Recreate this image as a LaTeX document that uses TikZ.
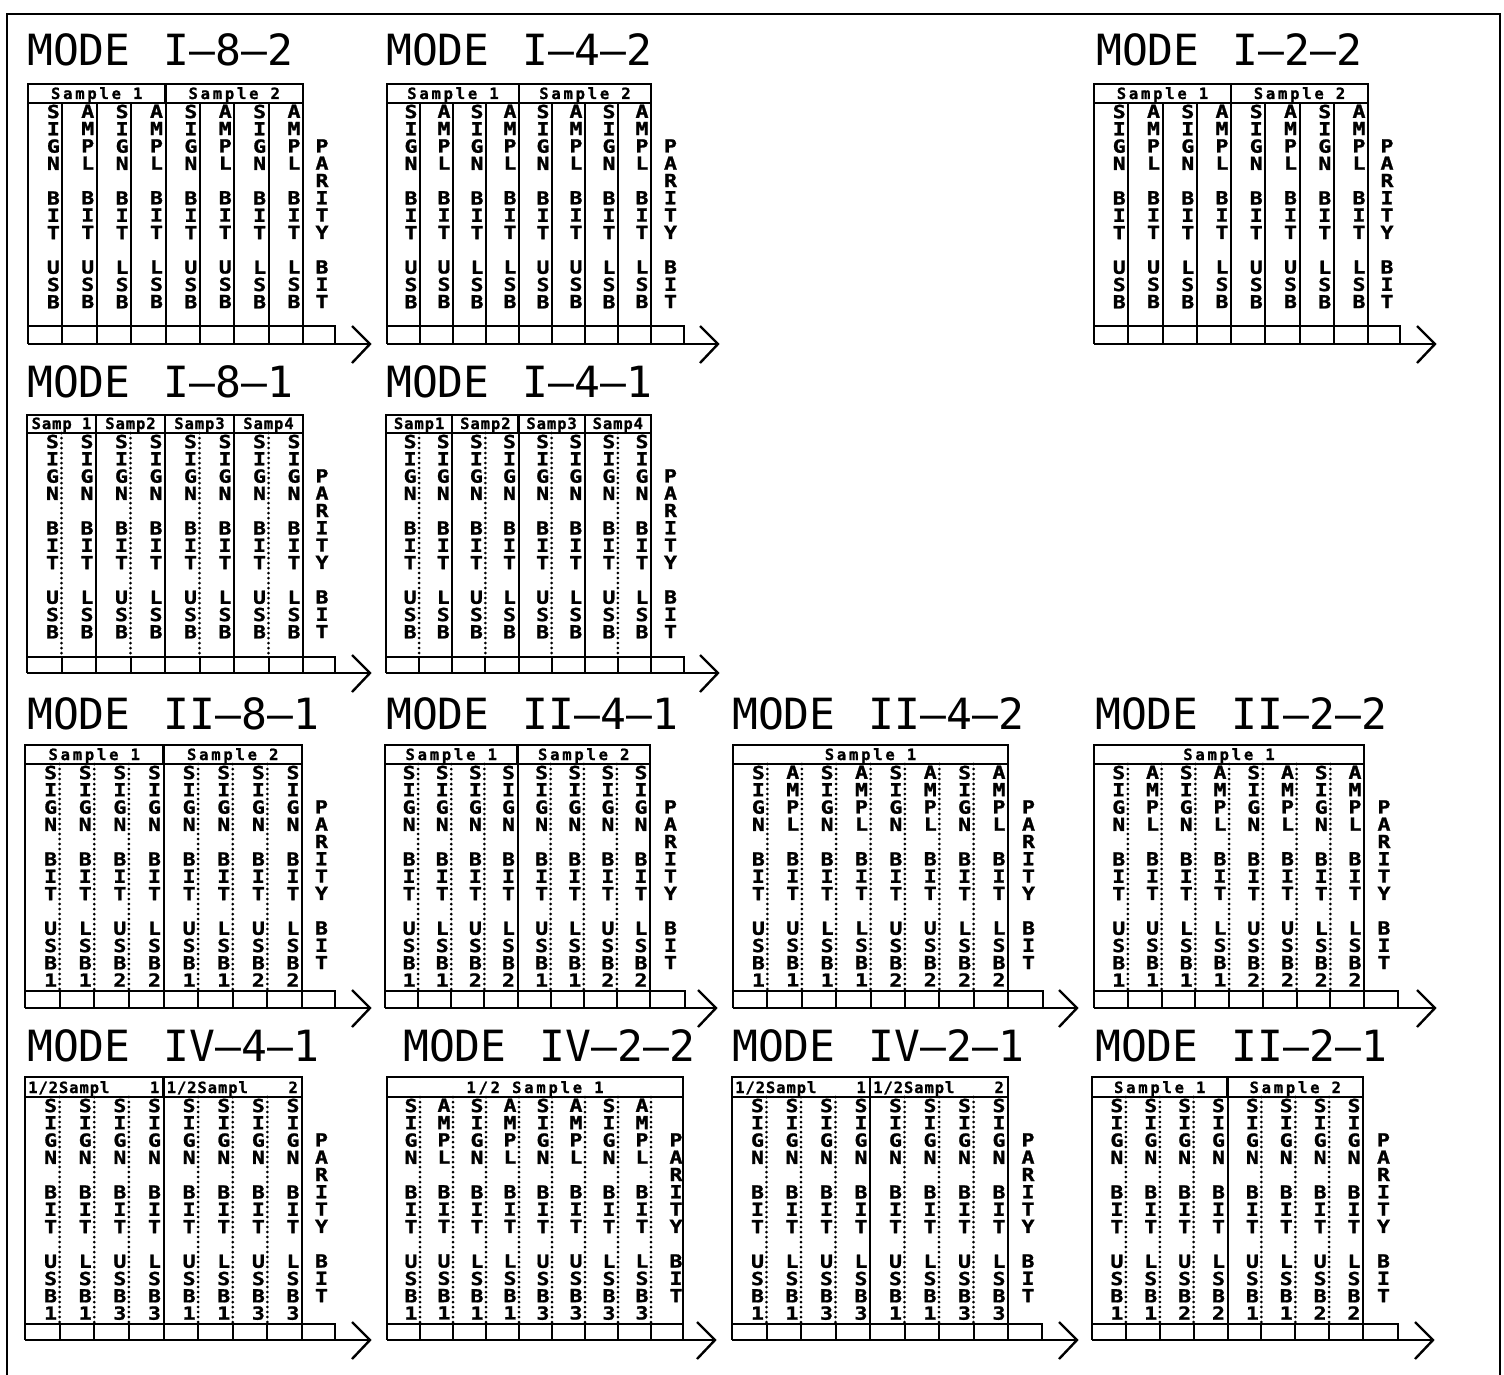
\documentclass[tikz,border=0pt]{standalone}
\usepackage{fontspec}
\setmonofont{DejaVu Sans Mono}
\newfontfamily\plotfont{DejaVu Sans Mono}
\newfontfamily\colfont[FakeStretch=1.2,BoldFeatures={FakeBold=1.3}]{DejaVu Sans Mono}
\newfontfamily\hdrfont[LetterSpace=18,BoldFeatures={FakeBold=1.2}]{DejaVu Sans Mono}
\newfontfamily\hdrfontB[LetterSpace=6,BoldFeatures={FakeBold=1.2}]{DejaVu Sans Mono}

\newcommand\wS{S\\I\\G\\N}
\newcommand\wA{A\\M\\P\\L}
\newcommand\sU{U\\S\\B}
\newcommand\sL{L\\S\\B}
\expandafter\def\csname dgx\endcsname{}
\expandafter\def\csname dg1\endcsname{\\1}
\expandafter\def\csname dg2\endcsname{\\2}
\expandafter\def\csname dg3\endcsname{\\3}

\newcommand\RowOne{S/U/x,A/U/x,S/L/x,A/L/x,S/U/x,A/U/x,S/L/x,A/L/x}
\newcommand\RowTwo{S/U/x,S/L/x,S/U/x,S/L/x,S/U/x,S/L/x,S/U/x,S/L/x}
\newcommand\ColsSL{S/U/1,S/L/1,S/U/2,S/L/2,S/U/1,S/L/1,S/U/2,S/L/2}
\newcommand\ColsSA{S/U/1,A/U/1,S/L/1,A/L/1,S/U/2,A/U/2,S/L/2,A/L/2}
\newcommand\ColsSLt{S/U/1,S/L/1,S/U/3,S/L/3,S/U/1,S/L/1,S/U/3,S/L/3}
\newcommand\ColsSAt{S/U/1,A/U/1,S/L/1,A/L/1,S/U/3,A/U/3,S/L/3,A/L/3}
\newcommand\DivAll{s,s,s,s,s,s,s}
\newcommand\DivPair{d,s,d,s,d,s,d}
\newcommand\DivHalf{d,d,d,s,d,d,d}
\newcommand\DivDot{d,d,d,d,d,d,d}
\newcommand\DivDotP{d,d,d,d,d,d,d,d}

\newcommand\geom[9]{\def\pid{#1}\def\pL{#2}\def\pR{#3}\def\pP{#4}\def\pA{#5}\def\pHt{#6}\def\pHb{#7}\def\pBt{#8}\def\pBb{#9}\pgfmathsetmacro\pw{(#3-#2)/8}}

\newcommand\panel[3]{%
  \draw[bx] (\pL,\pHt) rectangle (#3,\pBt);
  \draw[bx] (\pL,\pHb) -- (#3,\pHb);
  \foreach \dt [count=\k] in #1 {%
    \if s\dt \draw[divs] ({\pL+\k*\pw},\pHb) -- ({\pL+\k*\pw},\pBt);
    \else \draw[divd] ({\pL+\k*\pw},\pHb) -- ({\pL+\k*\pw},\pBt); \fi}
  \foreach \cw/\cs/\cd [count=\k] in #2 {%
    \node[coltext] (\pid-c\k) at ({\pL+\k*\pw-9},{\pHb+1.5})
      {\csname w\cw\endcsname\\~\\B\\I\\T\\~\\\csname s\cs\endcsname\csname dg\cd\endcsname};}
  \draw[bx] (\pL,\pBt) -- (\pP,\pBt) -- (\pP,\pBb);
  \draw[bx] (\pL,\pBt) -- (\pL,\pBb);
  \foreach \k in {1,...,8} {\draw[cell] ({\pL+\k*\pw},\pBt) -- ({\pL+\k*\pw},\pBb);}
  \coordinate (\pid-s) at (\pL,\pBb);
  \coordinate (\pid-t) at (\pA,\pBb);
  \draw[bx] (\pid-s) -- (\pid-t);
  \draw[bx] ([shift={(-18,-18)}]\pid-t) -- (\pid-t) -- ([shift={(-18,19)}]\pid-t);
}
\newcommand\parity[1]{\node[coltext] (\pid-par) at ({#1},{\pHb+1.5+2*17.3}) {P\\A\\R\\I\\T\\Y\\~\\B\\I\\T};}
\newcommand\mtitle[3]{\node[title] (\pid-title) at (#1,#2) {MODE\hspace{33pt}#3};}
\newcommand\hsec[3]{%
  \draw[bx] ({\pL+#2*\pw},\pHt) -- ({\pL+#2*\pw},\pHb);
  \node[htext] (\pid-h#2) at ({\pL+(#1+#2)/2*\pw},{\pHb-4}) {#3};}
\newcommand\hsecq[3]{%
  \draw[bx] ({\pL+#2*\pw},\pHt) -- ({\pL+#2*\pw},\pHb);
  \node[htextB] (\pid-h#2) at ({\pL+(#1+#2)/2*\pw},{\pHb-4}) {#3};}
\newcommand\hsecB[4]{%
  \draw[bx] ({\pL+#2*\pw},\pHt) -- ({\pL+#2*\pw},\pHb);
  \node[htextB,anchor=base west] (\pid-h#2a) at ({\pL+#1*\pw+3},{\pHb-4}) {#3};
  \node[htextB,anchor=base east] (\pid-h#2b) at ({\pL+#2*\pw-4},{\pHb-4}) {#4};}

\begin{document}
\begin{tikzpicture}[x=1pt,y=-1pt,
  bx/.style={line width=2.4pt},
  cell/.style={line width=2pt},
  divs/.style={line width=2pt},
  divd/.style={line width=3pt,dash pattern=on 0pt off 5pt,line cap=round},
  coltext/.style={anchor=north,inner sep=0pt,align=center,
    font={\fontsize{18}{17.3}\selectfont\colfont\bfseries}},
  htext/.style={anchor=base,inner sep=0pt,font={\fontsize{15.5}{15.5}\selectfont\hdrfont\bfseries}},
  htextB/.style={anchor=base,inner sep=0pt,font={\fontsize{15.5}{15.5}\selectfont\hdrfontB\bfseries}},
  title/.style={anchor=west,inner sep=0pt,font={\fontsize{43}{43}\selectfont\plotfont}},
  frame/.style={line width=2.6pt}]
\useasboundingbox (0,0) rectangle (1504,1375);
\draw[frame] (7,1390) -- (7,14) -- (1500,14) -- (1500,1390);

% ---------- Row 1
\geom{a1}{28}{303}{335}{370}{84}{103}{326}{344}
\mtitle{27}{50}{I–8–2}
\panel{\DivAll}{\RowOne}{\pR}
\parity{(\pR+\pP)/2+3}
\hsec{0}{4}{Sample 1}\hsec{4}{8}{Sample 2}

\geom{a2}{387}{651}{684}{718}{84}{103}{326}{344}
\mtitle{386}{50}{I–4–2}
\panel{\DivAll}{\RowOne}{\pR}
\parity{(\pR+\pP)/2+3}
\hsec{0}{4}{Sample 1}\hsec{4}{8}{Sample 2}

\geom{a3}{1094}{1368}{1400}{1435}{84}{103}{326}{344}
\mtitle{1096}{50}{I–2–2}
\panel{\DivAll}{\RowOne}{\pR}
\parity{(\pR+\pP)/2+3}
\hsec{0}{4}{Sample 1}\hsec{4}{8}{Sample 2}

% ---------- Row 2
\geom{b1}{27}{303}{335}{370}{415}{433}{657}{673}
\mtitle{27}{382}{I–8–1}
\panel{\DivPair}{\RowTwo}{\pR}
\parity{(\pR+\pP)/2+3}
\hsecq{0}{2}{Samp 1}\hsecq{2}{4}{Samp2}\hsecq{4}{6}{Samp3}\hsecq{6}{8}{Samp4}

\geom{b2}{386}{651}{684}{718}{415}{433}{657}{673}
\mtitle{386}{382}{I–4–1}
\panel{\DivPair}{\RowTwo}{\pR}
\parity{(\pR+\pP)/2+3}
\hsecq{0}{2}{Samp1}\hsecq{2}{4}{Samp2}\hsecq{4}{6}{Samp3}\hsecq{6}{8}{Samp4}

% ---------- Row 3
\geom{c1}{25}{302}{335}{370}{745}{764}{991}{1008}
\mtitle{27}{714}{II–8–1}
\panel{\DivHalf}{\ColsSL}{\pR}
\parity{(\pR+\pP)/2+3}
\hsec{0}{4}{Sample 1}\hsec{4}{8}{Sample 2}

\geom{c2}{385}{650}{685}{716}{745}{764}{991}{1008}
\mtitle{386}{714}{II–4–1}
\panel{\DivHalf}{\ColsSL}{\pR}
\parity{(\pR+\pP)/2+3}
\hsec{0}{4}{Sample 1}\hsec{4}{8}{Sample 2}

\geom{c3}{733}{1008}{1043}{1077}{745}{764}{991}{1008}
\mtitle{732}{714}{II–4–2}
\panel{\DivDot}{\ColsSA}{\pR}
\parity{(\pR+\pP)/2+3}
\node[htext] (c3-h) at ({(\pL+\pR)/2},{\pHb-4}) {Sample 1};

\geom{c4}{1094}{1364}{1398}{1435}{745}{764}{991}{1008}
\mtitle{1095}{714}{II–2–2}
\panel{\DivDot}{\ColsSA}{\pR}
\parity{(\pR+\pP)/2+3}
\node[htext] (c4-h) at ({(\pL+\pR)/2},{\pHb-4}) {Sample 1};

% ---------- Row 4
\geom{d1}{25}{302}{335}{370}{1077}{1097}{1324}{1340}
\mtitle{27}{1046}{IV–4–1}
\panel{\DivHalf}{\ColsSLt}{\pR}
\parity{(\pR+\pP)/2+3}
\hsecB{0}{4}{1/2Sampl}{1}\hsecB{4}{8}{1/2Sampl}{2}

\geom{d2}{387}{651}{683}{715}{1077}{1097}{1324}{1340}
\mtitle{403}{1046}{IV–2–2}
\panel{\DivDotP}{\ColsSAt}{\pP}
\parity{\pP-7}
\node[htext] (d2-h) at ({(\pL+\pP)/2},{\pHb-4}) {1/2 Sample 1};

\geom{d3}{732}{1008}{1042}{1077}{1077}{1097}{1324}{1340}
\mtitle{732}{1046}{IV–2–1}
\panel{\DivHalf}{\ColsSLt}{\pR}
\parity{(\pR+\pP)/2+3}
\hsecB{0}{4}{1/2Sampl}{1}\hsecB{4}{8}{1/2Sampl}{2}

\geom{d4}{1092}{1363}{1398}{1433}{1077}{1097}{1324}{1340}
\mtitle{1095}{1046}{II–2–1}
\panel{\DivHalf}{\ColsSL}{\pR}
\parity{(\pR+\pP)/2+3}
\hsec{0}{4}{Sample 1}\hsec{4}{8}{Sample 2}
\end{tikzpicture}
\end{document}
